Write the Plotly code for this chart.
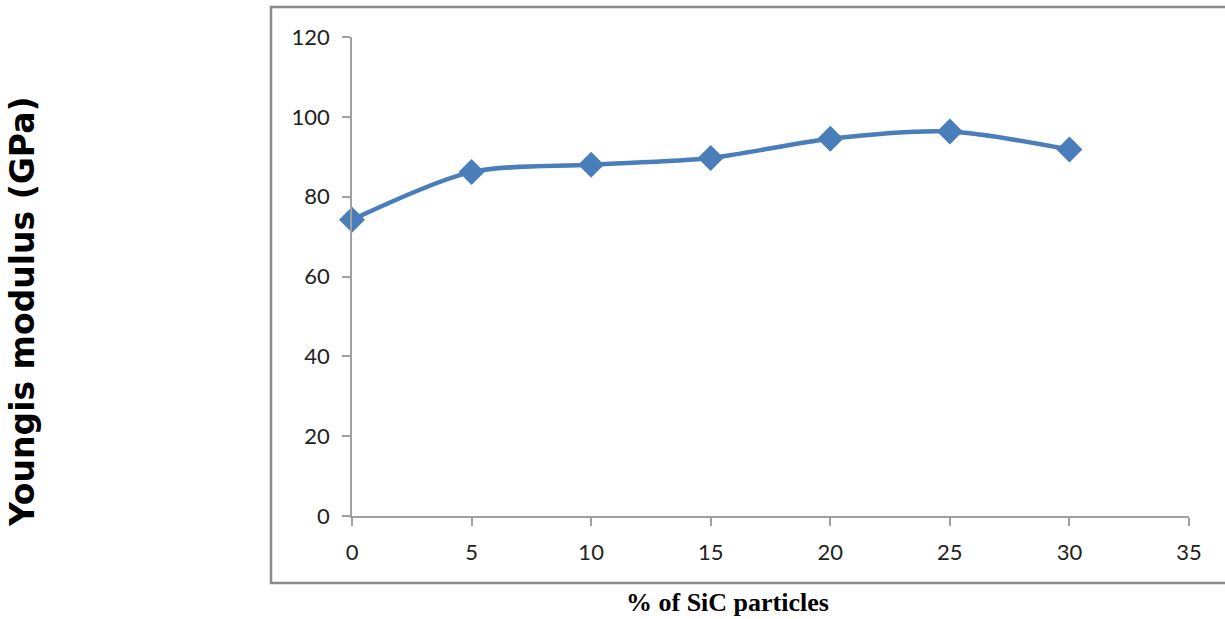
import plotly.graph_objects as go

sic_percent = [0, 5, 10, 15, 20, 25, 30]
youngs_modulus = [74.2, 86.2, 88.0, 89.7, 94.5, 96.3, 91.8]
x_ticks = [0, 5, 10, 15, 20, 25, 30, 35]
y_ticks = [0, 20, 40, 60, 80, 100, 120]

W, H = 1225, 619
L, R, T, B = 352, 36, 37, 103
pw, ph = W - L - R, H - T - B

def px(xp):
    return (xp - L) / pw

def py(yp):
    return (H - B - yp) / ph

fig = go.Figure()
fig.add_trace(go.Scatter(
    x=sic_percent, y=youngs_modulus, mode="lines+markers",
    line=dict(color="#4a7ebb", width=4.5, shape="spline", smoothing=0.8),
    marker=dict(symbol="diamond", size=20, color="#4a7ebb"),
    showlegend=False, cliponaxis=False,
))

axis_common = dict(showgrid=False, zeroline=False, showline=True, linecolor="#a0a0a0",
                   linewidth=1.5, ticks="outside", ticklen=8, tickcolor="#a0a0a0",
                   tickwidth=1.5, tickfont=dict(family="Lato", size=22, color="#222"))
fig.update_xaxes(range=[0, 35], tickvals=x_ticks, ticklabelstandoff=8, **axis_common)
fig.update_yaxes(range=[0, 120], tickvals=y_ticks, ticklabelstandoff=8, **axis_common)

fig.add_shape(type="rect", xref="paper", yref="paper",
              x0=px(271), x1=px(1240), y0=py(583), y1=py(7),
              line=dict(color="#8a8a8a", width=2.5), fillcolor="rgba(0,0,0,0)")

fig.add_annotation(text="Youngis modulus (GPa)", xref="paper", yref="paper",
                   x=px(22), y=py(312), textangle=-90, showarrow=False,
                   xanchor="center", yanchor="middle",
                   font=dict(family="DejaVu Sans", size=33, color="black", weight="bold"))
fig.add_annotation(text="% of SiC particles", xref="paper", yref="paper",
                   x=px(727), y=py(602), showarrow=False,
                   xanchor="center", yanchor="middle",
                   font=dict(family="Liberation Serif", size=26, color="black", weight="bold"))

fig.update_layout(width=W, height=H, margin=dict(l=L, r=R, t=T, b=B),
                  paper_bgcolor="white", plot_bgcolor="white")
fig.write_html("out.html")
